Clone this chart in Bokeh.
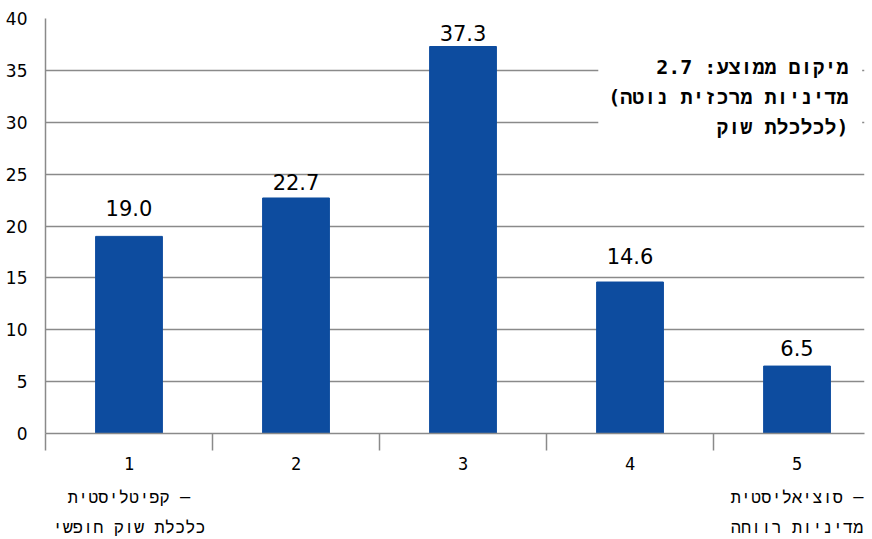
from bokeh.plotting import figure
from bokeh.models import ColumnDataSource, FixedTicker, Label, BoxAnnotation, Range1d, LinearAxis
from bokeh.embed import file_html
from bokeh.resources import INLINE
from bokeh.core.properties import value

# ---- data ----
categories = [1, 2, 3, 4, 5]
shares = [19.0, 22.7, 37.3, 14.6, 6.5]
value_labels = ["19.0", "22.7", "37.3", "14.6", "6.5"]
tick_labels = ["1", "2", "3", "4", "5"]
y_ticks = [0, 5, 10, 15, 20, 25, 30, 35, 40]
left_end_label = ["קפיטליסטית –", "כלכלת שוק חופשי"]
right_end_label = ["סוציאליסטית –", "מדיניות רווחה"]
note_lines = ["מיקום ממוצע: 2.7", "(מדיניות מרכזית נוטה", "לכלכלת שוק)"]

# ---- style ----
label_gap_px = [-20, -8, -6, -18, -10]
BLUE = "#0D4C9F"
GRAY = "#8a8a8a"
MONO = "'DejaVu Sans Mono', 'Liberation Mono', 'DejaVu Sans'"

p = figure(width=872, height=539, output_backend="svg", toolbar_location=None,
           x_range=Range1d(0.5, 5.404), y_range=Range1d(0, 40),
           min_border_left=45, min_border_top=18, min_border_right=8,
           min_border_bottom=106)
p.outline_line_color = None
p.background_fill_color = "white"
p.border_fill_color = "white"

p.xgrid.grid_line_color = None
p.ygrid.grid_line_color = GRAY
p.ygrid.grid_line_width = 1.5

p.yaxis.ticker = FixedTicker(ticks=y_ticks)
p.yaxis.axis_line_color = GRAY
p.yaxis.axis_line_width = 1.5
p.yaxis.major_tick_line_color = None
p.yaxis.minor_tick_line_color = None
p.yaxis.major_label_standoff = 12
p.yaxis.major_label_text_font = "DejaVu Sans"
p.yaxis.major_label_text_font_size = "17px"
p.yaxis.major_label_text_color = "black"

p.xaxis.ticker = FixedTicker(ticks=categories, minor_ticks=[0.5, 1.5, 2.5, 3.5, 4.5, 5.5])
p.xaxis.major_label_overrides = {c: t for c, t in zip(categories, tick_labels)}
p.xaxis.axis_line_color = GRAY
p.xaxis.axis_line_width = 1.5
p.xaxis.major_tick_line_color = None
p.xaxis.major_tick_out = 0
p.xaxis.major_tick_in = 0
p.xaxis.minor_tick_line_color = GRAY
p.xaxis.minor_tick_line_width = 1.5
p.xaxis.minor_tick_out = 17
p.xaxis.minor_tick_in = 0
p.xaxis.major_label_standoff = 6
p.xaxis.major_label_text_font = MONO
p.xaxis.major_label_text_font_size = "17px"
p.xaxis.major_label_text_color = "black"

# extra label rows under the axis (descriptions of the scale ends)
for row, standoff in ((0, 14), (1, 7)):
    ax = LinearAxis(ticker=FixedTicker(ticks=[1, 5], minor_ticks=[]),
                    major_label_overrides={1: left_end_label[row],
                                           5: right_end_label[row]})
    ax.axis_line_color = None
    ax.major_tick_line_color = None
    ax.minor_tick_line_color = None
    ax.major_tick_out = 0
    ax.major_tick_in = 0
    ax.major_label_standoff = standoff
    ax.major_label_text_font = MONO
    ax.major_label_text_font_size = "17px"
    ax.major_label_text_color = "black"
    p.add_layout(ax, "below")

src = ColumnDataSource(dict(x=categories, top=shares, lab=value_labels, off=label_gap_px))
p.vbar(x="x", top="top", width=0.4, source=src, fill_color=BLUE, line_color=BLUE)
p.text(x="x", y="top", text="lab", source=src, text_align="center",
       text_baseline="bottom", y_offset="off", text_font=value("DejaVu Sans"),
       text_font_size="21px", text_color="black")

# note box
p.add_layout(BoxAnnotation(left=3.81, right=5.39, top=36.9, bottom=27.8,
                           fill_color="white", fill_alpha=1.0, line_color=None))
for i, ln in enumerate(note_lines):
    p.add_layout(Label(x=5.308, y=35.28 - 2.89 * i, text=ln, text_align="right",
                       text_baseline="middle", text_font=MONO, text_font_style="bold",
                       text_font_size="20px", text_color="black"))

open("out.html", "w").write(file_html(p, INLINE))
